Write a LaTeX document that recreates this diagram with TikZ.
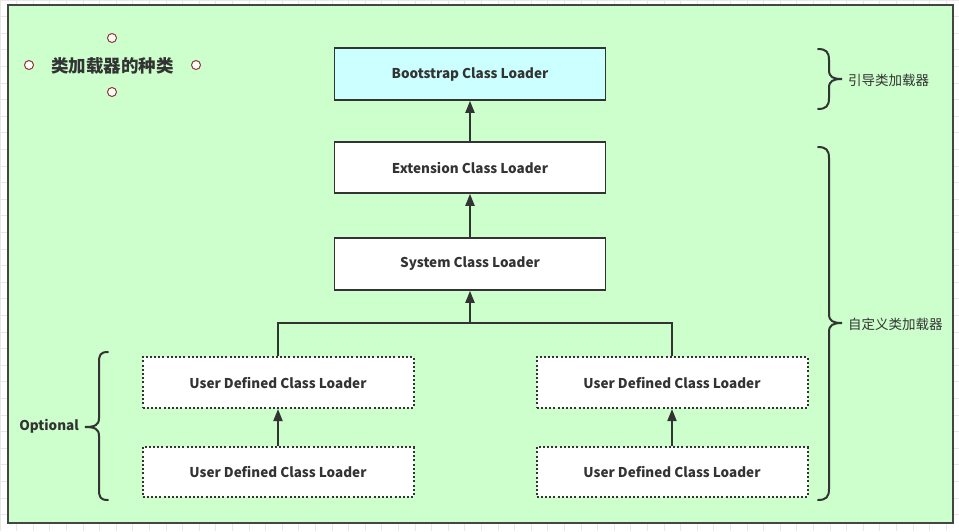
\documentclass[tikz,border=0pt]{standalone}
\usepackage{fontspec}
\setmainfont{Noto Sans CJK SC}
\usetikzlibrary{arrows.meta}
\definecolor{bgc}{HTML}{CCFFCC}
\definecolor{cyanc}{HTML}{CCFFFF}
\definecolor{ink}{HTML}{333333}
\definecolor{frame}{HTML}{444444}
\definecolor{gridc}{HTML}{E8E8E8}
\definecolor{handle}{HTML}{993333}
\tikzset{
  box/.style={draw=ink, line width=1.6pt, fill=white, text=ink,
    font=\fontsize{13.5}{16}\selectfont\bfseries, minimum width=271pt, inner sep=0pt},
  dotbox/.style={box, dash pattern=on 2pt off 2.2pt, line width=2pt},
  arr/.style={draw=ink, line width=2pt, -{Triangle[length=12pt,width=9pt]}},
  conn/.style={draw=ink, line width=2pt},
  bracec/.style={draw=ink, line width=2pt, line cap=round},
  lbl/.style={text=ink, font=\fontsize{13.5}{16}\selectfont, inner sep=0pt},
  handledot/.style={circle, draw=handle, fill=white, line width=1pt, minimum size=9pt, inner sep=0pt}
}
\begin{document}
\begin{tikzpicture}[x=1pt,y=-1pt]
\useasboundingbox (0,0) rectangle (959,531);
\fill[white] (0,0) rectangle (959,531);
\draw[gridc, line width=0.8pt, step=16.6pt] (0,0) grid (959,531);
\draw[fill=bgc, draw=frame, line width=2pt] (8,5) rectangle (953,523);

% title with selection handles
\node[text=ink, font=\fontsize{17.5}{20}\selectfont\bfseries, inner sep=0pt] (title) at (112.5,66) {类加载器的种类};
\node[handledot] (h1) at (112,38) {};
\node[handledot] (h2) at (29,65) {};
\node[handledot] (h3) at (196,65) {};
\node[handledot] (h4) at (112,92) {};

% loaders
\node[box, fill=cyanc, minimum height=52pt] (boot) at (470,74) {Bootstrap Class Loader};
\node[box, minimum height=51pt] (ext) at (470,167.5) {Extension Class Loader};
\node[box, minimum height=52pt] (sys) at (470,264) {System Class Loader};
\node[dotbox, minimum height=51pt] (u1) at (278,382.5) {User Defined Class Loader};
\node[dotbox, minimum height=50pt] (u2) at (278,472) {User Defined Class Loader};
\node[dotbox, minimum height=51pt] (u3) at (672,382.5) {User Defined Class Loader};
\node[dotbox, minimum height=50pt] (u4) at (672,472) {User Defined Class Loader};

% connectors
\draw[arr] (ext.north) -- (boot.south);
\draw[arr] (sys.north) -- (ext.south);
\coordinate (jn) at (470,323);
\draw[conn] (u1.north) |- (jn) -| (u3.north);
\draw[arr] (jn) -- (sys.south);
\draw[arr] (u2.north) -- (u1.south);
\draw[arr] (u4.north) -- (u3.south);

% braces
\draw[bracec] (818,49) .. controls (826,49) and (829,52) .. (829,60) -- (829,70)
  .. controls (829,77) and (833,79) .. (842,79)
  .. controls (833,79) and (829,81) .. (829,88) -- (829,98)
  .. controls (829,106) and (826,109) .. (818,109);
\node[lbl, anchor=west] (lb1) at (848,80) {引导类加载器};

\draw[bracec] (818,147) .. controls (826,147) and (829,150) .. (829,158) -- (829,314)
  .. controls (829,321) and (833,323) .. (842,323)
  .. controls (833,323) and (829,325) .. (829,332) -- (829,489)
  .. controls (829,497) and (826,500) .. (818,500);
\node[lbl, anchor=west] (lb2) at (848,324) {自定义类加载器};

\draw[bracec] (108,352) .. controls (100,352) and (99,355) .. (99,363) -- (99,418)
  .. controls (99,425) and (95,427) .. (85,427)
  .. controls (95,427) and (99,429) .. (99,436) -- (99,489)
  .. controls (99,497) and (100,500) .. (108,500);
\node[lbl, font=\fontsize{13.5}{16}\selectfont\bfseries, anchor=east] (opt) at (79,426) {Optional};
\end{tikzpicture}
\end{document}
